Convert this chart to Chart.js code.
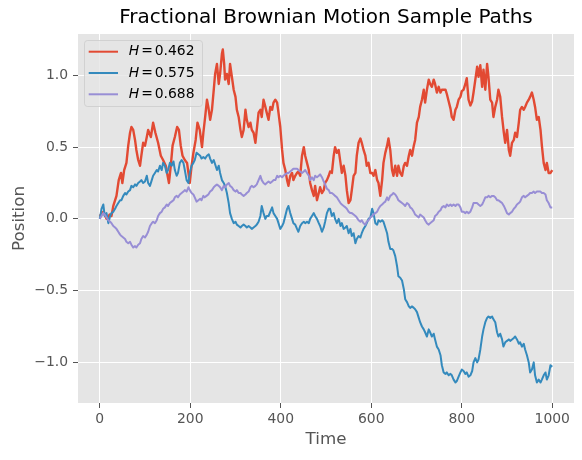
<!DOCTYPE html>
<html>
<head>
<meta charset="utf-8">
<script src="https://cdn.jsdelivr.net/npm/chart.js@4.4.1/dist/chart.umd.min.js"></script>
<style>
html,body{margin:0;padding:0;background:#ffffff;}
canvas{display:block;}
</style>
</head>
<body>
<canvas id="c" width="582" height="460"></canvas>
<script>
// ---- Data ----
const titleText = "Fractional Brownian Motion Sample Paths";
const xLabel = "Time";
const yLabel = "Position";
const hurst = ["0.462", "0.575", "0.688"];
const xTicks = [0, 200, 400, 600, 800, 1000];
const yTicks = [-1.0, -0.5, 0.0, 0.5, 1.0];

const redT = [
0,8,15,22,26,30,37,42,47,50,
54,59,63,67,70,74,78,81,85,89,
92,96,100,104,107,113,118,123,129,135,
140,146,150,153,157,161,166,171,175,179,
183,188,193,196,199,203,207,212,216,221,
226,229,233,237,240,244,248,252,255,259,
263,266,270,272,275,277,281,285,288,292,
296,300,303,307,311,314,318,322,325,329,
333,336,340,344,347,351,355,358,362,366,
369,373,377,381,384,388,392,395,399,403,
406,410,414,417,421,425,428,432,436,439,
443,447,451,454,458,462,465,469,473,476,
480,484,487,491,495,498,502,506,509,513,
517,520,524,528,532,535,539,543,546,550,
554,557,561,565,568,572,576,579,583,587,
590,594,598,602,605,609,613,616,620,624,
627,631,635,638,642,646,649,653,657,660,
664,668,672,675,679,683,686,690,694,697,
701,705,708,712,716,719,723,727,730,734,
738,741,745,749,753,756,760,764,767,771,
775,778,782,786,789,793,797,800,804,808,
811,815,819,823,826,830,834,837,841,845,
848,852,856,859,863,867,870,874,878,881,
885,889,893,896,900,904,907,911,915,918,
922,926,929,933,937,940,944,948,951,955,
959,962,966,970,974,977,981,985,988,992,
996,1000];
const redV = [
0.02,0.05,0.00,0.03,0.02,0.09,0.16,0.27,0.32,0.25,
0.34,0.39,0.51,0.60,0.64,0.62,0.55,0.48,0.41,0.37,
0.44,0.53,0.51,0.57,0.62,0.57,0.67,0.60,0.53,0.44,
0.41,0.37,0.30,0.25,0.37,0.51,0.57,0.64,0.62,0.51,
0.44,0.41,0.39,0.32,0.25,0.37,0.46,0.55,0.67,0.62,
0.50,0.60,0.71,0.83,0.78,0.69,0.76,0.90,1.01,1.08,
0.94,1.01,1.15,1.18,1.08,0.97,1.01,0.94,1.08,0.99,
0.90,0.85,0.76,0.71,0.62,0.57,0.62,0.76,0.69,0.64,
0.67,0.62,0.60,0.53,0.62,0.74,0.76,0.71,0.83,0.78,
0.74,0.69,0.78,0.76,0.81,0.83,0.81,0.74,0.64,0.48,
0.39,0.34,0.27,0.23,0.30,0.32,0.27,0.30,0.32,0.33,
0.30,0.44,0.50,0.44,0.39,0.34,0.25,0.20,0.16,0.23,
0.13,0.18,0.22,0.18,0.20,0.25,0.27,0.30,0.33,0.32,
0.44,0.50,0.46,0.48,0.39,0.32,0.37,0.30,0.20,0.11,
0.13,0.20,0.30,0.32,0.44,0.53,0.56,0.53,0.48,0.44,
0.37,0.39,0.32,0.32,0.30,0.34,0.27,0.25,0.16,0.27,
0.39,0.46,0.51,0.56,0.48,0.34,0.30,0.37,0.30,0.37,
0.32,0.30,0.37,0.39,0.37,0.44,0.48,0.44,0.51,0.55,
0.67,0.71,0.78,0.83,0.90,0.81,0.90,0.97,0.94,0.92,
0.97,0.94,0.88,0.92,0.88,0.90,0.90,0.90,0.87,0.82,
0.77,0.71,0.69,0.76,0.78,0.83,0.85,0.89,0.90,0.94,
0.98,0.83,0.79,0.82,0.88,0.97,1.06,0.99,1.07,0.92,
1.04,0.90,1.08,0.99,0.83,0.81,0.71,0.78,0.83,0.90,
0.85,0.71,0.60,0.53,0.62,0.48,0.44,0.53,0.55,0.60,
0.57,0.67,0.76,0.78,0.76,0.78,0.81,0.83,0.85,0.88,
0.83,0.78,0.69,0.71,0.62,0.51,0.39,0.34,0.39,0.32,
0.32,0.34];

const blueT = [
0,4,8,11,15,19,23,26,30,34,
37,41,45,48,52,56,59,63,67,70,
74,78,81,85,89,92,96,100,104,107,
111,115,118,122,126,129,133,137,140,144,
148,151,155,159,163,166,170,173,177,181,
185,188,192,196,199,203,207,210,214,218,
222,225,229,233,237,241,244,248,252,255,
259,263,266,270,274,277,281,285,288,292,
296,300,303,307,311,314,318,322,325,329,
333,336,340,344,347,351,355,358,362,366,
369,373,377,381,384,388,392,395,399,403,
406,410,414,417,421,425,428,432,436,439,
443,447,451,454,458,462,465,469,473,476,
480,484,487,491,495,498,502,506,509,513,
517,520,524,528,532,535,539,543,546,550,
554,557,561,565,568,572,576,579,583,587,
590,594,598,602,605,609,613,616,620,624,
627,631,635,638,642,646,649,653,657,660,
664,668,672,675,679,683,686,690,694,697,
701,705,708,712,716,719,723,727,730,734,
738,741,745,749,753,756,760,764,767,771,
775,778,782,786,789,793,797,800,804,808,
811,815,819,823,826,830,834,837,841,845,
848,852,856,859,863,867,870,874,878,881,
885,889,892,896,900,904,907,911,915,918,
922,926,929,933,937,940,944,948,951,955,
959,962,966,970,974,977,981,985,988,992,
996,1000];
const blueV = [
0.00,0.07,0.10,0.02,0.04,-0.03,0.02,0.04,0.05,0.07,
0.09,0.11,0.13,0.13,0.16,0.18,0.17,0.19,0.20,0.23,
0.22,0.24,0.23,0.25,0.26,0.27,0.25,0.26,0.30,0.25,
0.23,0.27,0.30,0.32,0.34,0.33,0.37,0.34,0.39,0.37,
0.32,0.34,0.39,0.37,0.40,0.34,0.30,0.32,0.39,0.41,
0.39,0.34,0.27,0.25,0.32,0.37,0.39,0.41,0.46,0.45,
0.44,0.42,0.43,0.42,0.44,0.45,0.42,0.39,0.41,0.38,
0.34,0.37,0.32,0.27,0.25,0.23,0.18,0.11,0.04,0.00,
-0.03,-0.02,-0.04,-0.05,-0.06,-0.05,-0.04,-0.05,-0.06,-0.05,
-0.06,-0.07,-0.06,-0.05,-0.04,-0.02,0.02,0.09,0.04,0.00,
0.02,0.02,0.05,0.08,0.04,0.02,0.00,-0.03,-0.07,-0.05,
-0.03,0.02,0.07,0.09,0.04,0.00,-0.03,-0.04,-0.07,-0.09,
-0.05,-0.03,-0.02,-0.03,-0.02,-0.03,0.00,0.02,0.04,0.02,
0.00,-0.03,-0.05,-0.09,-0.06,-0.02,0.04,0.07,0.07,0.02,
0.04,0.00,-0.03,0.00,-0.05,-0.03,-0.07,-0.06,-0.05,-0.10,
-0.07,-0.12,-0.10,-0.17,-0.14,-0.12,-0.13,-0.10,-0.07,-0.05,
-0.03,0.00,0.01,0.07,0.04,-0.03,-0.04,-0.01,-0.02,-0.01,
-0.02,-0.06,-0.10,-0.16,-0.21,-0.21,-0.22,-0.26,-0.33,-0.40,
-0.41,-0.43,-0.49,-0.56,-0.58,-0.61,-0.62,-0.61,-0.62,-0.63,
-0.65,-0.69,-0.72,-0.75,-0.77,-0.79,-0.82,-0.77,-0.79,-0.82,
-0.80,-0.84,-0.89,-0.91,-0.95,-1.02,-1.07,-1.08,-1.07,-1.09,
-1.08,-1.09,-1.12,-1.14,-1.13,-1.10,-1.07,-1.05,-1.06,-1.08,
-1.07,-1.10,-1.09,-1.06,-1.00,-0.97,-1.00,-0.98,-0.91,-0.82,
-0.77,-0.72,-0.69,-0.68,-0.69,-0.68,-0.70,-0.72,-0.79,-0.82,
-0.80,-0.84,-0.89,-0.86,-0.85,-0.84,-0.85,-0.84,-0.83,-0.82,
-0.84,-0.87,-0.86,-0.89,-0.87,-0.91,-0.95,-1.00,-1.07,-1.05,
-1.00,-1.09,-1.14,-1.12,-1.14,-1.12,-1.09,-1.07,-1.12,-1.09,
-1.02,-1.03];

const purpleT = [
0,4,8,11,15,19,23,26,30,34,
37,41,45,48,52,56,59,63,67,70,
74,78,81,85,89,92,96,100,104,107,
111,115,118,122,126,129,133,137,140,144,
148,151,155,159,163,166,170,173,177,181,
185,188,192,196,199,203,207,210,214,218,
222,225,229,232,236,240,244,248,252,255,
259,263,266,270,274,277,281,285,288,292,
296,300,303,307,311,314,318,322,325,329,
333,336,340,344,347,351,355,358,362,366,
369,373,377,381,384,388,392,395,399,403,
406,410,414,417,421,425,428,432,436,439,
443,447,451,454,458,462,465,469,473,476,
480,484,487,491,495,498,502,506,509,513,
517,520,524,528,532,535,539,543,546,550,
554,557,561,565,568,572,576,579,583,587,
590,594,598,602,605,609,613,616,620,624,
627,631,635,638,642,646,649,653,657,660,
664,668,672,675,679,683,686,690,694,697,
701,705,708,712,716,719,723,727,730,734,
738,741,745,749,753,756,760,764,767,771,
775,778,782,786,789,793,797,800,804,808,
811,815,819,823,826,830,834,837,841,845,
848,852,856,859,863,867,870,874,878,881,
885,889,893,896,900,904,907,911,915,918,
922,926,929,933,937,940,944,948,951,955,
959,962,966,970,974,977,981,985,988,992,
996,1000];
const purpleV = [
0.00,0.02,0.04,0.03,0.01,-0.01,-0.02,-0.03,-0.05,-0.06,
-0.07,-0.09,-0.11,-0.12,-0.13,-0.14,-0.16,-0.17,-0.16,-0.18,
-0.20,-0.19,-0.20,-0.18,-0.17,-0.14,-0.12,-0.13,-0.11,-0.09,
-0.05,-0.03,-0.02,-0.03,-0.01,0.02,0.04,0.05,0.07,0.08,
0.10,0.09,0.11,0.12,0.13,0.15,0.16,0.15,0.17,0.18,
0.19,0.20,0.19,0.22,0.20,0.18,0.17,0.15,0.12,0.13,
0.14,0.13,0.16,0.15,0.16,0.17,0.19,0.20,0.22,0.23,
0.24,0.23,0.22,0.20,0.23,0.22,0.24,0.25,0.23,0.22,
0.20,0.19,0.20,0.18,0.18,0.17,0.16,0.17,0.18,0.19,
0.22,0.23,0.22,0.23,0.24,0.27,0.30,0.27,0.25,0.24,
0.25,0.26,0.25,0.26,0.27,0.27,0.30,0.29,0.30,0.29,
0.30,0.31,0.32,0.32,0.33,0.34,0.35,0.35,0.35,0.34,
0.33,0.32,0.33,0.34,0.32,0.30,0.27,0.29,0.27,0.30,
0.29,0.30,0.31,0.29,0.26,0.24,0.21,0.20,0.18,0.18,
0.17,0.16,0.15,0.13,0.11,0.10,0.09,0.08,0.07,0.05,
0.04,0.04,0.03,0.02,0.01,-0.01,-0.02,-0.01,-0.03,-0.04,
-0.02,-0.01,0.01,0.02,0.03,0.04,0.05,0.07,0.09,0.10,
0.11,0.12,0.15,0.13,0.16,0.17,0.18,0.17,0.15,0.13,
0.12,0.11,0.10,0.09,0.11,0.10,0.08,0.07,0.05,0.03,
0.02,0.01,0.03,0.02,0.01,-0.01,-0.03,-0.04,-0.03,-0.02,
-0.01,0.02,0.03,0.05,0.06,0.08,0.09,0.08,0.10,0.09,
0.10,0.09,0.10,0.09,0.10,0.10,0.08,0.05,0.05,0.04,
0.05,0.04,0.05,0.08,0.11,0.11,0.11,0.10,0.09,0.10,
0.12,0.15,0.15,0.16,0.15,0.16,0.16,0.15,0.13,0.13,
0.12,0.11,0.09,0.07,0.04,0.03,0.04,0.05,0.07,0.08,
0.10,0.11,0.12,0.15,0.16,0.15,0.16,0.17,0.18,0.18,
0.19,0.18,0.19,0.19,0.19,0.18,0.18,0.17,0.13,0.11,
0.08,0.08];

const colors = ["#E24A33", "#348ABD", "#988ED5"];
const widths = [2.4, 2, 2];

// ---- Chart ----
const FONT = "'DejaVu Sans', 'Liberation Sans', sans-serif";
Chart.defaults.font.family = FONT;

function pts(T, V) { return T.map((t, i) => ({ x: t, y: V[i] })); }
function fmtY(v) {
  const r = Math.round(v * 10) / 10;
  return (r < 0 ? "\u2212" : "") + Math.abs(r).toFixed(1);
}

const bgPlugin = {
  id: "bg",
  beforeDraw(chart) {
    const { ctx, chartArea: a } = chart;
    ctx.save();
    ctx.fillStyle = "#E5E5E5";
    ctx.fillRect(a.left, a.top, a.right - a.left, a.bottom - a.top);
    ctx.restore();
  }
};

const legendPlugin = {
  id: "mplLegend",
  afterDraw(chart) {
    const ctx = chart.ctx;
    const x0 = 84.5, y0 = 40.5, w = 118, h = 66, r = 3;
    ctx.save();
    ctx.beginPath();
    ctx.moveTo(x0 + r, y0);
    ctx.lineTo(x0 + w - r, y0);
    ctx.arcTo(x0 + w, y0, x0 + w, y0 + r, r);
    ctx.lineTo(x0 + w, y0 + h - r);
    ctx.arcTo(x0 + w, y0 + h, x0 + w - r, y0 + h, r);
    ctx.lineTo(x0 + r, y0 + h);
    ctx.arcTo(x0, y0 + h, x0, y0 + h - r, r);
    ctx.lineTo(x0, y0 + r);
    ctx.arcTo(x0, y0, x0 + r, y0, r);
    ctx.closePath();
    ctx.fillStyle = "rgba(229,229,229,0.8)";
    ctx.fill();
    ctx.strokeStyle = "rgba(204,204,204,0.8)";
    ctx.lineWidth = 1;
    ctx.stroke();
    const rows = [51.7, 73, 94.3];
    chart.data.datasets.forEach((ds, i) => {
      const y = rows[i];
      ctx.strokeStyle = ds.borderColor;
      ctx.lineWidth = 2;
      ctx.beginPath();
      ctx.moveTo(88.7, y);
      ctx.lineTo(118, y);
      ctx.stroke();
      ctx.fillStyle = "#000000";
      ctx.textBaseline = "middle";
      ctx.textAlign = "left";
      ctx.font = "italic 13.9px " + FONT;
      ctx.fillText("H", 128.7, y);
      ctx.font = "13.9px " + FONT;
      ctx.fillText("=", 141.2, y);
      ctx.fillText(hurst[i], 154.7, y);
    });
    ctx.restore();
  }
};

new Chart(document.getElementById("c"), {
  type: "line",
  data: {
    datasets: [
      { label: "H = " + hurst[0], data: pts(redT, redV), borderColor: colors[0], borderWidth: widths[0], order: 2 },
      { label: "H = " + hurst[1], data: pts(blueT, blueV), borderColor: colors[1], borderWidth: widths[1], order: 1 },
      { label: "H = " + hurst[2], data: pts(purpleT, purpleV), borderColor: colors[2], borderWidth: widths[2], order: 0 }
    ].map(d => Object.assign(d, { pointRadius: 0, tension: 0, fill: false, borderJoinStyle: "round", borderCapStyle: "butt" }))
  },
  options: {
    responsive: false,
    animation: false,
    layout: { padding: { left: 0, right: 8, top: 0, bottom: 0 } },
    plugins: {
      legend: { display: false },
      tooltip: { enabled: false },
      title: {
        display: true, text: titleText, color: "#000000", fullSize: false,
        font: { size: 20, weight: "normal", family: FONT },
        padding: { top: 6, bottom: 4 }
      }
    },
    scales: {
      x: {
        type: "linear", min: -48, max: 1048,
        afterFit(s) { s.height = 57; },
        afterBuildTicks(s) { s.ticks = xTicks.map(v => ({ value: v })); },
        ticks: { color: "#555555", font: { size: 13.9 }, padding: 3, maxRotation: 0, autoSkip: false,
                 callback: v => String(v) },
        grid: { color: "#FFFFFF", lineWidth: 1, tickColor: "#555555", tickLength: 5, tickWidth: 1 },
        border: { display: false },
        title: { display: true, text: xLabel, color: "#555555", font: { size: 16.7 }, padding: { top: 0, bottom: 10 } }
      },
      y: {
        type: "linear", min: -1.283, max: 1.288,
        afterFit(s) { s.width = 78; },
        afterBuildTicks(s) { s.ticks = yTicks.map(v => ({ value: v })); },
        ticks: { color: "#555555", font: { size: 13.9 }, padding: 5, callback: v => fmtY(v) },
        grid: { color: "#FFFFFF", lineWidth: 1, tickColor: "#555555", tickLength: 5, tickWidth: 1 },
        border: { display: false },
        title: { display: true, text: yLabel, color: "#555555", font: { size: 16.7 }, padding: { top: 10, bottom: 0 } }
      }
    }
  },
  plugins: [bgPlugin, legendPlugin]
});
</script>
</body>
</html>
